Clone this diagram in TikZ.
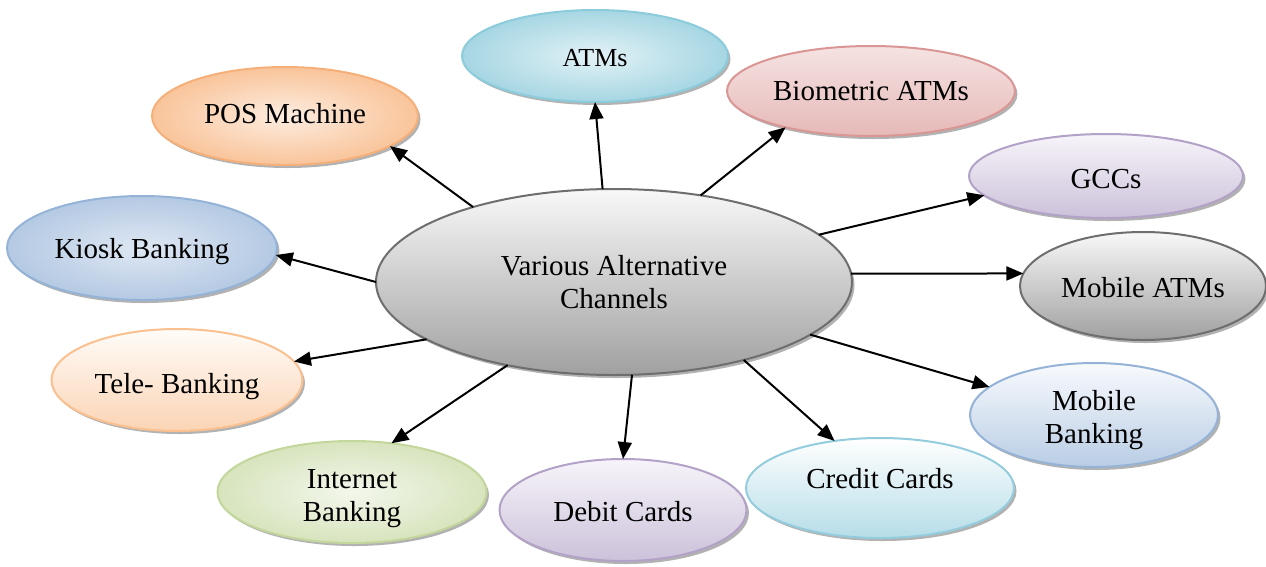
\documentclass[tikz,border=0pt]{standalone}
\usepackage{fontspec}
\setmainfont{Liberation Serif}
\usetikzlibrary{shapes.geometric,shadows,arrows.meta}
\definecolor{grayTop}{HTML}{F8F8F8}\definecolor{grayBot}{HTML}{A0A0A0}\definecolor{grayLine}{HTML}{6E6E6E}
\definecolor{cyanIn}{HTML}{E2F2F6}\definecolor{cyanOut}{HTML}{A6D6E3}\definecolor{cyanLine}{HTML}{8CCBDB}
\definecolor{pinkTop}{HTML}{F5E3E2}\definecolor{pinkBot}{HTML}{E6B9B8}\definecolor{pinkLine}{HTML}{D99694}
\definecolor{orIn}{HTML}{FDEDE0}\definecolor{orOut}{HTML}{F9C49A}\definecolor{orLine}{HTML}{F5B07A}
\definecolor{purTop}{HTML}{F7F4FA}\definecolor{purBot}{HTML}{CCC1DA}\definecolor{purLine}{HTML}{B3A2C7}
\definecolor{bluIn}{HTML}{DFE8F3}\definecolor{bluOut}{HTML}{B4C9E3}\definecolor{bluLine}{HTML}{95B3D7}
\definecolor{teleTop}{HTML}{FFFCF9}\definecolor{teleBot}{HTML}{FBD4B4}\definecolor{teleLine}{HTML}{FAC08F}
\definecolor{mbTop}{HTML}{F8FAFD}\definecolor{mbBot}{HTML}{B9CDE5}
\definecolor{grIn}{HTML}{F3F7EC}\definecolor{grOut}{HTML}{D7E4BD}\definecolor{grLine}{HTML}{C3D69B}
\definecolor{crTop}{HTML}{FFFFFF}\definecolor{crBot}{HTML}{B6DDE8}\definecolor{crLine}{HTML}{93CDDD}
\newcommand{\twolines}[3]{\raisebox{#1}[0pt][0pt]{\begin{tabular}{@{}c@{}}#2\\#3\end{tabular}}}
\tikzset{
  bub/.style n args={2}{ellipse, inner sep=0pt, outer sep=0pt, line width=2pt,
    minimum width=#1, minimum height=#2, align=center,
    font=\fontsize{29}{33}\selectfont,
    drop shadow={shadow xshift=2.5pt, shadow yshift=-3pt, fill=black, opacity=0.3}},
  oneline/.style={text height=19pt, text depth=1pt},
  grayb/.style={draw=grayLine, top color=grayTop, bottom color=grayBot},
  cyanb/.style={draw=cyanLine, inner color=cyanIn, outer color=cyanOut},
  pinkb/.style={draw=pinkLine, top color=pinkTop, bottom color=pinkBot},
  orb/.style={draw=orLine, inner color=orIn, outer color=orOut},
  purb/.style={draw=purLine, top color=purTop, bottom color=purBot},
  blub/.style={draw=bluLine, inner color=bluIn, outer color=bluOut},
  teleb/.style={draw=teleLine, top color=teleTop, bottom color=teleBot},
  mbb/.style={draw=bluLine, top color=mbTop, bottom color=mbBot},
  grb/.style={draw=grLine, inner color=grIn, outer color=grOut},
  crb/.style={draw=crLine, top color=crTop, bottom color=crBot},
  arr/.style={line width=2pt, -{Triangle[length=17pt,width=14pt]}},
}
\begin{document}
\begin{tikzpicture}[x=1pt,y=-1pt]
\useasboundingbox (0,0) rectangle (1266,566);
\node[bub={476pt}{186pt}, grayb] (c) at (614,282) {Various Alternative\\Channels};
\node[bub={266pt}{92pt}, cyanb, oneline, font=\fontsize{26}{30}\selectfont] (atm) at (595,56) {\raisebox{-1pt}{ATMs}};
\node[bub={288pt}{90pt}, pinkb, oneline] (bio) at (871,91) {Biometric ATMs};
\node[bub={266pt}{98pt}, orb, oneline] (pos) at (285,116) {\raisebox{2pt}{POS Machine}};
\node[bub={274pt}{84pt}, purb, oneline] (gcc) at (1106,176) {\raisebox{-3pt}{GCCs}};
\node[bub={270pt}{104pt}, blub, oneline] (kio) at (142,248) {\raisebox{-1pt}{Kiosk Banking}};
\node[bub={246pt}{108pt}, grayb, oneline] (mat) at (1143,286) {\raisebox{-2pt}{Mobile ATMs}};
\node[bub={251pt}{102pt}, teleb, oneline] (tel) at (177,380) {\raisebox{-4pt}{Tele- Banking}};
\node[bub={248pt}{104pt}, mbb] (mb) at (1094,415) {\twolines{-12pt}{Mobile}{Banking}};
\node[bub={269pt}{102pt}, grb] (inb) at (352,492) {\twolines{-13pt}{Internet}{Banking}};
\node[bub={247pt}{102pt}, purb, oneline] (deb) at (623,510) {\raisebox{-2pt}{Debit Cards}};
\node[bub={268pt}{100pt}, crb, oneline] (cre) at (880,488) {\raisebox{9pt}{Credit Cards}};

\draw[arr] (c.152) -- (pos.-16);
\draw[arr] (c.97) -- (atm.-90);
\draw[arr] (c.45) -- (bio.203);
\draw[arr] (c.13) -- (gcc.189);
\draw[arr] (c.2) -- (mat.174);
\draw[arr] (c.-15) -- (mb.165);
\draw[arr] (c.-31) -- (cre.134);
\draw[arr] (c.-79) -- (deb.90);
\draw[arr] (c.-142) -- (inb.51);
\draw[arr] (c.-163) -- (tel.9);
\draw[arr] (c.180) -- (kio.-3);
\end{tikzpicture}
\end{document}
